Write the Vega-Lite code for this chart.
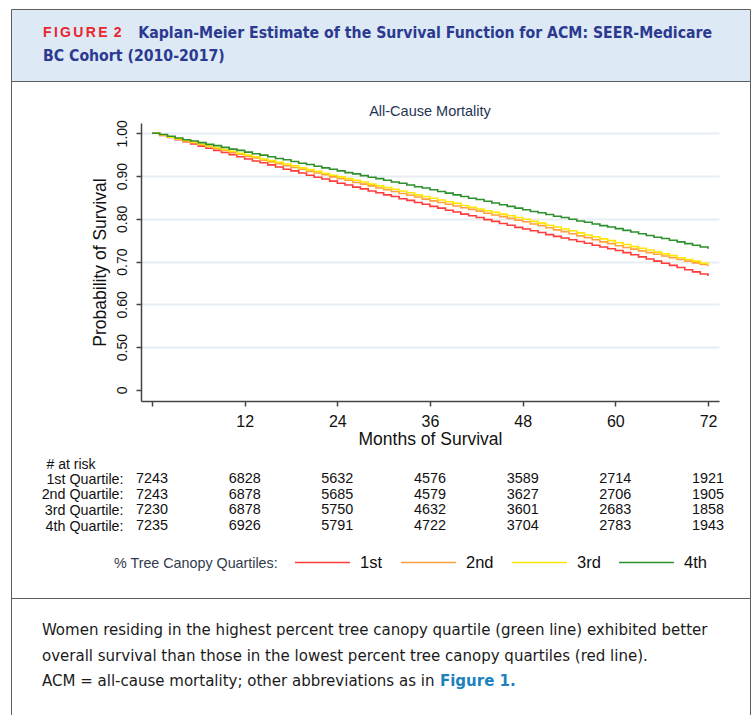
{
  "$schema": "https://vega.github.io/schema/vega-lite/v6.json",
  "background": "white",
  "padding": {"left": 10, "right": 7, "top": 8, "bottom": 0},
  "spacing": 0,
  "bounds": "flush",
  "config": {"font": "Liberation Sans", "view": {"stroke": null}},
  "datasets": {
    "km": [
      {"month":0,"q":"1st","surv":1.000},{"month":1,"q":"1st","surv":0.995},{"month":2,"q":"1st","surv":0.990},{"month":3,"q":"1st","surv":0.985},{"month":4,"q":"1st","surv":0.980},{"month":5,"q":"1st","surv":0.975},{"month":6,"q":"1st","surv":0.970},{"month":7,"q":"1st","surv":0.965},{"month":8,"q":"1st","surv":0.960},{"month":9,"q":"1st","surv":0.955},{"month":10,"q":"1st","surv":0.950},{"month":11,"q":"1st","surv":0.945},{"month":12,"q":"1st","surv":0.940},
      {"month":13,"q":"1st","surv":0.935},{"month":14,"q":"1st","surv":0.931},{"month":15,"q":"1st","surv":0.926},{"month":16,"q":"1st","surv":0.921},{"month":17,"q":"1st","surv":0.916},{"month":18,"q":"1st","surv":0.912},{"month":19,"q":"1st","surv":0.907},{"month":20,"q":"1st","surv":0.902},{"month":21,"q":"1st","surv":0.897},{"month":22,"q":"1st","surv":0.893},{"month":23,"q":"1st","surv":0.888},{"month":24,"q":"1st","surv":0.883},
      {"month":25,"q":"1st","surv":0.879},{"month":26,"q":"1st","surv":0.874},{"month":27,"q":"1st","surv":0.870},{"month":28,"q":"1st","surv":0.865},{"month":29,"q":"1st","surv":0.861},{"month":30,"q":"1st","surv":0.856},{"month":31,"q":"1st","surv":0.852},{"month":32,"q":"1st","surv":0.847},{"month":33,"q":"1st","surv":0.843},{"month":34,"q":"1st","surv":0.838},{"month":35,"q":"1st","surv":0.834},{"month":36,"q":"1st","surv":0.829},
      {"month":37,"q":"1st","surv":0.825},{"month":38,"q":"1st","surv":0.820},{"month":39,"q":"1st","surv":0.816},{"month":40,"q":"1st","surv":0.811},{"month":41,"q":"1st","surv":0.807},{"month":42,"q":"1st","surv":0.803},{"month":43,"q":"1st","surv":0.798},{"month":44,"q":"1st","surv":0.794},{"month":45,"q":"1st","surv":0.789},{"month":46,"q":"1st","surv":0.785},{"month":47,"q":"1st","surv":0.780},{"month":48,"q":"1st","surv":0.776},
      {"month":49,"q":"1st","surv":0.772},{"month":50,"q":"1st","surv":0.768},{"month":51,"q":"1st","surv":0.763},{"month":52,"q":"1st","surv":0.759},{"month":53,"q":"1st","surv":0.755},{"month":54,"q":"1st","surv":0.751},{"month":55,"q":"1st","surv":0.747},{"month":56,"q":"1st","surv":0.743},{"month":57,"q":"1st","surv":0.738},{"month":58,"q":"1st","surv":0.734},{"month":59,"q":"1st","surv":0.730},{"month":60,"q":"1st","surv":0.726},
      {"month":61,"q":"1st","surv":0.721},{"month":62,"q":"1st","surv":0.716},{"month":63,"q":"1st","surv":0.711},{"month":64,"q":"1st","surv":0.706},{"month":65,"q":"1st","surv":0.701},{"month":66,"q":"1st","surv":0.696},{"month":67,"q":"1st","surv":0.691},{"month":68,"q":"1st","surv":0.686},{"month":69,"q":"1st","surv":0.681},{"month":70,"q":"1st","surv":0.676},{"month":71,"q":"1st","surv":0.671},{"month":72,"q":"1st","surv":0.666},

      {"month":0,"q":"2nd","surv":1.000},{"month":1,"q":"2nd","surv":0.996},{"month":2,"q":"2nd","surv":0.991},{"month":3,"q":"2nd","surv":0.987},{"month":4,"q":"2nd","surv":0.982},{"month":5,"q":"2nd","surv":0.978},{"month":6,"q":"2nd","surv":0.973},{"month":7,"q":"2nd","surv":0.969},{"month":8,"q":"2nd","surv":0.964},{"month":9,"q":"2nd","surv":0.960},{"month":10,"q":"2nd","surv":0.955},{"month":11,"q":"2nd","surv":0.951},{"month":12,"q":"2nd","surv":0.946},
      {"month":13,"q":"2nd","surv":0.942},{"month":14,"q":"2nd","surv":0.937},{"month":15,"q":"2nd","surv":0.933},{"month":16,"q":"2nd","surv":0.929},{"month":17,"q":"2nd","surv":0.924},{"month":18,"q":"2nd","surv":0.920},{"month":19,"q":"2nd","surv":0.916},{"month":20,"q":"2nd","surv":0.911},{"month":21,"q":"2nd","surv":0.907},{"month":22,"q":"2nd","surv":0.903},{"month":23,"q":"2nd","surv":0.898},{"month":24,"q":"2nd","surv":0.894},
      {"month":25,"q":"2nd","surv":0.890},{"month":26,"q":"2nd","surv":0.885},{"month":27,"q":"2nd","surv":0.881},{"month":28,"q":"2nd","surv":0.877},{"month":29,"q":"2nd","surv":0.872},{"month":30,"q":"2nd","surv":0.868},{"month":31,"q":"2nd","surv":0.864},{"month":32,"q":"2nd","surv":0.859},{"month":33,"q":"2nd","surv":0.855},{"month":34,"q":"2nd","surv":0.851},{"month":35,"q":"2nd","surv":0.846},{"month":36,"q":"2nd","surv":0.842},
      {"month":37,"q":"2nd","surv":0.838},{"month":38,"q":"2nd","surv":0.834},{"month":39,"q":"2nd","surv":0.830},{"month":40,"q":"2nd","surv":0.826},{"month":41,"q":"2nd","surv":0.822},{"month":42,"q":"2nd","surv":0.818},{"month":43,"q":"2nd","surv":0.813},{"month":44,"q":"2nd","surv":0.809},{"month":45,"q":"2nd","surv":0.805},{"month":46,"q":"2nd","surv":0.801},{"month":47,"q":"2nd","surv":0.797},{"month":48,"q":"2nd","surv":0.793},
      {"month":49,"q":"2nd","surv":0.788},{"month":50,"q":"2nd","surv":0.784},{"month":51,"q":"2nd","surv":0.779},{"month":52,"q":"2nd","surv":0.774},{"month":53,"q":"2nd","surv":0.770},{"month":54,"q":"2nd","surv":0.765},{"month":55,"q":"2nd","surv":0.760},{"month":56,"q":"2nd","surv":0.756},{"month":57,"q":"2nd","surv":0.751},{"month":58,"q":"2nd","surv":0.746},{"month":59,"q":"2nd","surv":0.742},{"month":60,"q":"2nd","surv":0.737},
      {"month":61,"q":"2nd","surv":0.733},{"month":62,"q":"2nd","surv":0.729},{"month":63,"q":"2nd","surv":0.725},{"month":64,"q":"2nd","surv":0.721},{"month":65,"q":"2nd","surv":0.717},{"month":66,"q":"2nd","surv":0.713},{"month":67,"q":"2nd","surv":0.709},{"month":68,"q":"2nd","surv":0.705},{"month":69,"q":"2nd","surv":0.701},{"month":70,"q":"2nd","surv":0.697},{"month":71,"q":"2nd","surv":0.693},{"month":72,"q":"2nd","surv":0.689},

      {"month":0,"q":"3rd","surv":1.000},{"month":1,"q":"3rd","surv":0.996},{"month":2,"q":"3rd","surv":0.991},{"month":3,"q":"3rd","surv":0.987},{"month":4,"q":"3rd","surv":0.983},{"month":5,"q":"3rd","surv":0.979},{"month":6,"q":"3rd","surv":0.975},{"month":7,"q":"3rd","surv":0.970},{"month":8,"q":"3rd","surv":0.966},{"month":9,"q":"3rd","surv":0.962},{"month":10,"q":"3rd","surv":0.958},{"month":11,"q":"3rd","surv":0.953},{"month":12,"q":"3rd","surv":0.949},
      {"month":13,"q":"3rd","surv":0.945},{"month":14,"q":"3rd","surv":0.940},{"month":15,"q":"3rd","surv":0.936},{"month":16,"q":"3rd","surv":0.932},{"month":17,"q":"3rd","surv":0.928},{"month":18,"q":"3rd","surv":0.924},{"month":19,"q":"3rd","surv":0.919},{"month":20,"q":"3rd","surv":0.915},{"month":21,"q":"3rd","surv":0.911},{"month":22,"q":"3rd","surv":0.906},{"month":23,"q":"3rd","surv":0.902},{"month":24,"q":"3rd","surv":0.898},
      {"month":25,"q":"3rd","surv":0.894},{"month":26,"q":"3rd","surv":0.890},{"month":27,"q":"3rd","surv":0.886},{"month":28,"q":"3rd","surv":0.881},{"month":29,"q":"3rd","surv":0.877},{"month":30,"q":"3rd","surv":0.873},{"month":31,"q":"3rd","surv":0.869},{"month":32,"q":"3rd","surv":0.865},{"month":33,"q":"3rd","surv":0.861},{"month":34,"q":"3rd","surv":0.856},{"month":35,"q":"3rd","surv":0.852},{"month":36,"q":"3rd","surv":0.848},
      {"month":37,"q":"3rd","surv":0.844},{"month":38,"q":"3rd","surv":0.840},{"month":39,"q":"3rd","surv":0.836},{"month":40,"q":"3rd","surv":0.831},{"month":41,"q":"3rd","surv":0.827},{"month":42,"q":"3rd","surv":0.823},{"month":43,"q":"3rd","surv":0.819},{"month":44,"q":"3rd","surv":0.815},{"month":45,"q":"3rd","surv":0.811},{"month":46,"q":"3rd","surv":0.807},{"month":47,"q":"3rd","surv":0.803},{"month":48,"q":"3rd","surv":0.799},
      {"month":49,"q":"3rd","surv":0.794},{"month":50,"q":"3rd","surv":0.790},{"month":51,"q":"3rd","surv":0.785},{"month":52,"q":"3rd","surv":0.781},{"month":53,"q":"3rd","surv":0.776},{"month":54,"q":"3rd","surv":0.772},{"month":55,"q":"3rd","surv":0.767},{"month":56,"q":"3rd","surv":0.762},{"month":57,"q":"3rd","surv":0.758},{"month":58,"q":"3rd","surv":0.753},{"month":59,"q":"3rd","surv":0.749},{"month":60,"q":"3rd","surv":0.744},
      {"month":61,"q":"3rd","surv":0.740},{"month":62,"q":"3rd","surv":0.735},{"month":63,"q":"3rd","surv":0.731},{"month":64,"q":"3rd","surv":0.727},{"month":65,"q":"3rd","surv":0.722},{"month":66,"q":"3rd","surv":0.718},{"month":67,"q":"3rd","surv":0.714},{"month":68,"q":"3rd","surv":0.709},{"month":69,"q":"3rd","surv":0.705},{"month":70,"q":"3rd","surv":0.701},{"month":71,"q":"3rd","surv":0.696},{"month":72,"q":"3rd","surv":0.692},

      {"month":0,"q":"4th","surv":1.000},{"month":1,"q":"4th","surv":0.997},{"month":2,"q":"4th","surv":0.993},{"month":3,"q":"4th","surv":0.989},{"month":4,"q":"4th","surv":0.985},{"month":5,"q":"4th","surv":0.982},{"month":6,"q":"4th","surv":0.978},{"month":7,"q":"4th","surv":0.974},{"month":8,"q":"4th","surv":0.971},{"month":9,"q":"4th","surv":0.967},{"month":10,"q":"4th","surv":0.963},{"month":11,"q":"4th","surv":0.960},{"month":12,"q":"4th","surv":0.956},
      {"month":13,"q":"4th","surv":0.952},{"month":14,"q":"4th","surv":0.949},{"month":15,"q":"4th","surv":0.945},{"month":16,"q":"4th","surv":0.941},{"month":17,"q":"4th","surv":0.938},{"month":18,"q":"4th","surv":0.934},{"month":19,"q":"4th","surv":0.930},{"month":20,"q":"4th","surv":0.927},{"month":21,"q":"4th","surv":0.923},{"month":22,"q":"4th","surv":0.919},{"month":23,"q":"4th","surv":0.916},{"month":24,"q":"4th","surv":0.912},
      {"month":25,"q":"4th","surv":0.908},{"month":26,"q":"4th","surv":0.905},{"month":27,"q":"4th","surv":0.901},{"month":28,"q":"4th","surv":0.897},{"month":29,"q":"4th","surv":0.894},{"month":30,"q":"4th","surv":0.890},{"month":31,"q":"4th","surv":0.886},{"month":32,"q":"4th","surv":0.883},{"month":33,"q":"4th","surv":0.879},{"month":34,"q":"4th","surv":0.875},{"month":35,"q":"4th","surv":0.872},{"month":36,"q":"4th","surv":0.868},
      {"month":37,"q":"4th","surv":0.864},{"month":38,"q":"4th","surv":0.860},{"month":39,"q":"4th","surv":0.856},{"month":40,"q":"4th","surv":0.852},{"month":41,"q":"4th","surv":0.848},{"month":42,"q":"4th","surv":0.845},{"month":43,"q":"4th","surv":0.841},{"month":44,"q":"4th","surv":0.837},{"month":45,"q":"4th","surv":0.833},{"month":46,"q":"4th","surv":0.829},{"month":47,"q":"4th","surv":0.825},{"month":48,"q":"4th","surv":0.821},
      {"month":49,"q":"4th","surv":0.817},{"month":50,"q":"4th","surv":0.814},{"month":51,"q":"4th","surv":0.810},{"month":52,"q":"4th","surv":0.806},{"month":53,"q":"4th","surv":0.803},{"month":54,"q":"4th","surv":0.799},{"month":55,"q":"4th","surv":0.795},{"month":56,"q":"4th","surv":0.792},{"month":57,"q":"4th","surv":0.788},{"month":58,"q":"4th","surv":0.784},{"month":59,"q":"4th","surv":0.781},{"month":60,"q":"4th","surv":0.777},
      {"month":61,"q":"4th","surv":0.773},{"month":62,"q":"4th","surv":0.769},{"month":63,"q":"4th","surv":0.765},{"month":64,"q":"4th","surv":0.761},{"month":65,"q":"4th","surv":0.757},{"month":66,"q":"4th","surv":0.754},{"month":67,"q":"4th","surv":0.750},{"month":68,"q":"4th","surv":0.746},{"month":69,"q":"4th","surv":0.742},{"month":70,"q":"4th","surv":0.738},{"month":71,"q":"4th","surv":0.734},{"month":72,"q":"4th","surv":0.730}
    ],
    "risk": [
      {"row":"1st Quartile:","month":0,"n":7243},{"row":"1st Quartile:","month":12,"n":6828},{"row":"1st Quartile:","month":24,"n":5632},{"row":"1st Quartile:","month":36,"n":4576},{"row":"1st Quartile:","month":48,"n":3589},{"row":"1st Quartile:","month":60,"n":2714},{"row":"1st Quartile:","month":72,"n":1921},
      {"row":"2nd Quartile:","month":0,"n":7243},{"row":"2nd Quartile:","month":12,"n":6878},{"row":"2nd Quartile:","month":24,"n":5685},{"row":"2nd Quartile:","month":36,"n":4579},{"row":"2nd Quartile:","month":48,"n":3627},{"row":"2nd Quartile:","month":60,"n":2706},{"row":"2nd Quartile:","month":72,"n":1905},
      {"row":"3rd Quartile:","month":0,"n":7230},{"row":"3rd Quartile:","month":12,"n":6878},{"row":"3rd Quartile:","month":24,"n":5750},{"row":"3rd Quartile:","month":36,"n":4632},{"row":"3rd Quartile:","month":48,"n":3601},{"row":"3rd Quartile:","month":60,"n":2683},{"row":"3rd Quartile:","month":72,"n":1858},
      {"row":"4th Quartile:","month":0,"n":7235},{"row":"4th Quartile:","month":12,"n":6926},{"row":"4th Quartile:","month":24,"n":5791},{"row":"4th Quartile:","month":36,"n":4722},{"row":"4th Quartile:","month":48,"n":3704},{"row":"4th Quartile:","month":60,"n":2783},{"row":"4th Quartile:","month":72,"n":1943}
    ]
  },
  "vconcat": [
    {
      "width": 739,
      "height": 72,
      "view": {"fill": "#dde9f5", "stroke": "#5e5e5e", "strokeWidth": 1},
      "title": {
        "text": "F\u2006I\u2006G\u2006U\u2006R\u2006E\u2006 2",
        "subtitle": ["\u200b\u2003\u2003\u2003\u2003\u2003\u2003\u2002\u2005Kaplan-Meier Estimate of the Survival Function for ACM: SEER-Medicare", "BC Cohort (2010-2017)"],
        "orient": "top", "anchor": "start", "frame": "group",
        "offset": -56, "dx": 32,
        "font": "Liberation Sans", "fontSize": 14, "fontWeight": "bold", "color": "#e8262d",
        "subtitleFont": "DejaVu Sans Condensed", "subtitleFontSize": 15.7, "subtitleFontWeight": "bold",
        "subtitleColor": "#2b3990", "subtitleLineHeight": 23.5, "subtitlePadding": -14
      },
      "data": {"values": []},
      "mark": "text",
      "encoding": {}
    },
    {
      "width": 739,
      "height": 517,
      "view": {"fill": "white", "stroke": "#5e5e5e", "strokeWidth": 1},
      "title": {
        "text": "All-Cause Mortality",
        "orient": "top", "anchor": "middle", "frame": "group",
        "offset": -38, "dx": 49.5,
        "font": "Liberation Sans", "fontSize": 14.5, "fontWeight": "normal", "color": "#1f3552"
      },
      "layer": [
        {
          "data": {"name": "km"},
          "mark": {"type": "line", "interpolate": "step-after", "strokeWidth": 1.6, "clip": false},
          "encoding": {
            "x": {
              "field": "month", "type": "quantitative",
              "scale": {"domain": [-1.42, 73.42], "range": [130, 708], "nice": false, "zero": false},
              "axis": {
                "orient": "bottom", "offset": -197,
                "values": [0, 12, 24, 36, 48, 60, 72],
                "labelExpr": "datum.value == 0 ? '' : datum.label",
                "grid": false,
                "domainColor": "#444", "domainWidth": 1.5,
                "tickColor": "#444", "tickSize": 5, "tickWidth": 1.5,
                "labelFont": "Liberation Sans", "labelFontSize": 16, "labelColor": "#111", "labelPadding": 7,
                "title": "Months of Survival", "titleFont": "Liberation Sans", "titleFontSize": 17.5,
                "titleFontWeight": "normal", "titleColor": "#111", "titlePadding": 1.5
              }
            },
            "y": {
              "field": "surv", "type": "quantitative",
              "scale": {"domain": [0.374, 1.024], "range": [320, 42], "nice": false, "zero": false},
              "axis": {
                "orient": "left", "offset": -130,
                "values": [0.4, 0.5, 0.6, 0.7, 0.8, 0.9, 1.0],
                "labelExpr": "datum.value < 0.45 ? '0' : format(datum.value, '.2f')",
                "labelAngle": -90, "labelAlign": "center", "labelBaseline": "bottom",
                "labelFont": "Liberation Sans", "labelFontSize": 14, "labelColor": "#111", "labelPadding": 7,
                "grid": true, "gridColor": "#e6edf3", "gridWidth": 2,
                "gridOpacity": {"condition": {"test": "datum.value < 0.45", "value": 0}, "value": 1},
                "domainColor": "#444", "domainWidth": 1.5,
                "tickColor": "#444", "tickSize": 5, "tickWidth": 1.5,
                "title": "Probability of Survival", "titleFont": "Liberation Sans", "titleFontSize": 17.5,
                "titleFontWeight": "normal", "titleColor": "#111", "titlePadding": 6
              }
            },
            "color": {
              "field": "q", "type": "nominal",
              "scale": {"domain": ["1st", "2nd", "3rd", "4th"], "range": ["#ff3b3b", "#ffa040", "#ffe600", "#2e8f2e"]},
              "legend": {
                "orient": "none", "legendX": 103, "legendY": 525,
                "direction": "horizontal",
                "title": "% Tree Canopy Quartiles:", "titleOrient": "left",
                "titleFont": "Liberation Sans", "titleFontSize": 14.3, "titleFontWeight": "normal",
                "titleColor": "#2f3b4c", "titlePadding": 16, "titleBaseline": "line-top", "titleLineHeight": 22,
                "labelFont": "Liberation Sans", "labelFontSize": 16.5, "labelColor": "#111", "labelOffset": 9,
                "symbolType": "stroke", "symbolSize": 3025, "symbolStrokeWidth": 1.5,
                "columnPadding": 15
              }
            }
          }
        },
        {
          "data": {"name": "risk"},
          "mark": {"type": "text", "align": "center", "baseline": "middle", "fontSize": 14.4, "font": "Liberation Sans", "color": "#111"},
          "encoding": {
            "x": {"field": "month", "type": "quantitative"},
            "y": {
              "field": "row", "type": "nominal",
              "scale": {"type": "point", "domain": ["1st Quartile:", "2nd Quartile:", "3rd Quartile:", "4th Quartile:"], "range": [398, 445], "padding": 0},
              "axis": {
                "orient": "left", "offset": -130,
                "domain": false, "ticks": false, "grid": false,
                "labelFont": "Liberation Sans", "labelFontSize": 14.3, "labelColor": "#111", "labelPadding": 18,
                "title": "# at risk", "titleAngle": 0, "titleAlign": "right", "titleBaseline": "middle",
                "titleX": -46, "titleY": 383,
                "titleFont": "Liberation Sans", "titleFontSize": 14, "titleFontWeight": "normal", "titleColor": "#111"
              }
            },
            "text": {"field": "n", "type": "quantitative", "format": "d"}
          }
        }
      ],
      "resolve": {"scale": {"y": "independent"}, "axis": {"y": "independent"}}
    },
    {
      "width": 739,
      "height": 118,
      "view": {"fill": "white", "stroke": "#5e5e5e", "strokeWidth": 1},
      "title": {
        "text": [
          "Women residing in the highest percent tree canopy quartile (green line) exhibited better",
          "overall survival than those in the lowest percent tree canopy quartiles (red line).",
          "ACM = all-cause mortality; other abbreviations as in"
        ],
        "subtitle": "\u200b\u2003\u2003\u2003\u2003\u2003\u2003\u2003\u2003\u2003\u2003\u2003\u2003\u2003\u2003\u2003\u2003\u2003\u2003\u2003\u2003\u2003\u2003\u2003\u2003\u2003\u2003\u2002Figure 1.",
        "orient": "top", "anchor": "start", "frame": "group",
        "offset": -92, "dx": 31,
        "font": "DejaVu Sans Condensed", "fontSize": 16.7, "fontWeight": "normal", "color": "#1a1a1a", "lineHeight": 25.5,
        "subtitleFont": "DejaVu Sans Condensed", "subtitleFontSize": 16.7, "subtitleFontWeight": "bold",
        "subtitleColor": "#1c82be", "subtitlePadding": -17
      },
      "data": {"values": []},
      "mark": "text",
      "encoding": {}
    }
  ]
}
